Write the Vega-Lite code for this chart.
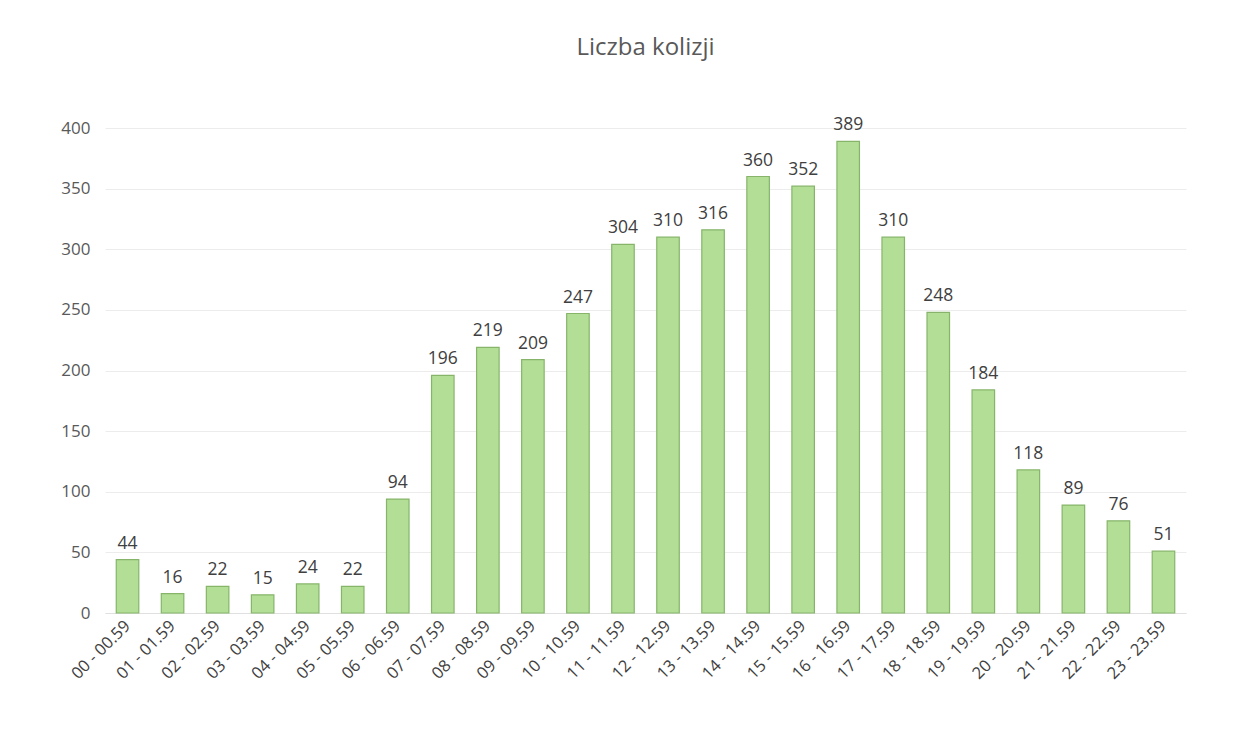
{
  "$schema": "https://vega.github.io/schema/vega-lite/v6.json",
  "autosize": "none",
  "width": 1081,
  "height": 485,
  "padding": {"left": 105, "top": 128, "right": 51, "bottom": 131},
  "background": "white",
  "config": {"view": {"stroke": null}, "font": "Open Sans"},
  "title": {"text": "Liczba kolizji", "fontSize": 24, "fontWeight": "normal", "color": "#595959", "font": "Open Sans", "offset": 56, "anchor": "middle"},
  "data": {"values": [
    {"h": "00 - 00.59", "v": 44},
    {"h": "01 - 01.59", "v": 16},
    {"h": "02 - 02.59", "v": 22},
    {"h": "03 - 03.59", "v": 15},
    {"h": "04 - 04.59", "v": 24},
    {"h": "05 - 05.59", "v": 22},
    {"h": "06 - 06.59", "v": 94},
    {"h": "07 - 07.59", "v": 196},
    {"h": "08 - 08.59", "v": 219},
    {"h": "09 - 09.59", "v": 209},
    {"h": "10 - 10.59", "v": 247},
    {"h": "11 - 11.59", "v": 304},
    {"h": "12 - 12.59", "v": 310},
    {"h": "13 - 13.59", "v": 316},
    {"h": "14 - 14.59", "v": 360},
    {"h": "15 - 15.59", "v": 352},
    {"h": "16 - 16.59", "v": 389},
    {"h": "17 - 17.59", "v": 310},
    {"h": "18 - 18.59", "v": 248},
    {"h": "19 - 19.59", "v": 184},
    {"h": "20 - 20.59", "v": 118},
    {"h": "21 - 21.59", "v": 89},
    {"h": "22 - 22.59", "v": 76},
    {"h": "23 - 23.59", "v": 51}
  ]},
  "encoding": {
    "x": {"field": "h", "type": "nominal", "sort": null, "title": null,
      "scale": {"paddingInner": 0.5, "paddingOuter": 0.25},
      "axis": {"labelAngle": -45, "labelAlign": "right", "labelBaseline": "middle", "labelFontSize": 16.5, "labelColor": "#404040", "labelPadding": 10, "ticks": false, "domain": true, "domainColor": "#e0e0e0", "grid": false}},
    "y": {"field": "v", "type": "quantitative", "title": null,
      "scale": {"domain": [0, 400]},
      "axis": {"values": [0, 50, 100, 150, 200, 250, 300, 350, 400], "labelFontSize": 17, "labelColor": "#595959", "labelPadding": 15, "ticks": false, "domain": false, "gridColor": "#ececec"}}
  },
  "layer": [
    {"mark": {"type": "bar", "color": "#b2de96", "stroke": "#86b56a", "strokeWidth": 1.2}},
    {"mark": {"type": "text", "dy": -16, "fontSize": 17.5, "color": "#404040"}, "encoding": {"text": {"field": "v", "type": "quantitative"}}}
  ]
}
